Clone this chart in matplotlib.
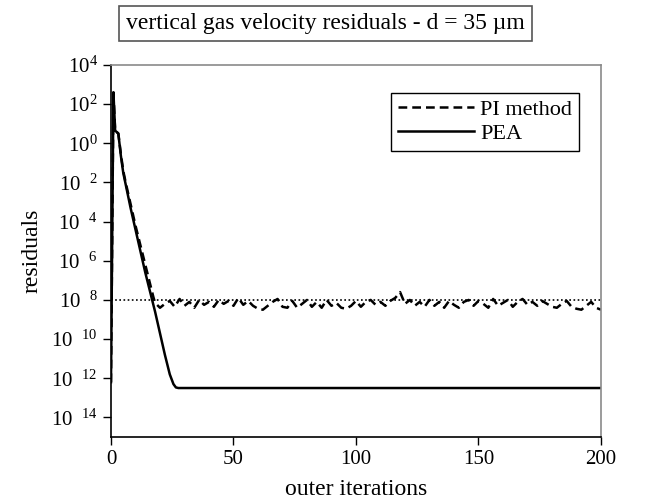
import matplotlib
matplotlib.use('Agg')
import matplotlib.pyplot as plt
import numpy as np

plt.rcParams['font.family'] = ['Liberation Serif', 'DejaVu Serif']
plt.rcParams['mathtext.fontset'] = 'custom'
plt.rcParams['mathtext.rm'] = 'Liberation Serif'

# PEA residuals (log10)
pea_x = [0, 1, 1.7, 3, 4, 5, 6, 8, 10, 12, 14, 16, 18, 20, 22, 24, 25.5, 26.5, 27.5, 200]
pea_log = [-12.2, 2.6, 0.65, 0.5, -0.6, -1.5, -2.1, -3.3, -4.4, -5.5, -6.6, -7.6,
           -8.6, -9.7, -10.8, -11.8, -12.3, -12.47, -12.5, -12.5]

# PI method residuals (log10): decay then noisy plateau around 1e-8
pi_x_start = [0, 1, 1.7, 3, 4, 5, 6, 8, 10, 12, 14, 16, 17.3]
pi_log_start = [-12.2, 2.6, 0.65, 0.5, -0.5, -1.4, -2.0, -3.1, -4.2, -5.2, -6.2, -7.2, -7.85]
pi_x_noise = list(range(18, 201, 2))
pi_log_noise = [-8.15, -8.4, -8.2, -8.05, -8.35, -7.95, -8.3, -8.1, -8.4, -8.0,
                -8.25, -8.1, -8.35, -8.0, -8.2, -8.05, -8.3, -7.9, -8.25, -8.05,
                -8.3, -8.45, -8.5, -8.3, -8.1, -7.95, -8.35, -8.4, -8.05, -8.4,
                -8.2, -8.0, -8.35, -8.1, -8.4, -8.0, -8.3, -8.15, -8.4, -8.45,
                -8.3, -8.05, -8.35, -8.1, -8.0, -8.25, -8.1, -8.3, -8.05, -7.9,
                -7.6, -8.2, -8.0, -8.3, -8.1, -8.35, -8.0, -8.3, -8.1, -8.4,
                -8.05, -8.25, -8.4, -8.1, -8.0, -8.3, -8.05, -8.2, -8.4, -7.95,
                -8.3, -8.15, -8.0, -8.35, -8.1, -7.95, -8.25, -8.1, -8.3, -8.05,
                -8.2, -8.35, -8.4, -8.2, -8.05, -8.35, -8.45, -8.5, -8.3, -8.1,
                -8.4, -8.5]
ref_level = 1e-8

xticks = [0, 50, 100, 150, 200]
yexp = [4, 2, 0, -2, -4, -6, -8, -10, -12, -14]

pi_x = pi_x_start + pi_x_noise
pi_y = 10.0 ** np.array(pi_log_start + pi_log_noise)
pea_y = 10.0 ** np.array(pea_log)

fig = plt.figure(figsize=(6.49, 5.04), dpi=100)
ax = fig.add_axes([0.171, 0.133, 0.755, 0.738])

ax.axhline(ref_level, color='black', linestyle=(0, (1, 1.5)), lw=1.2)
ax.plot(pi_x, pi_y, color='black', linestyle=(0, (3.5, 2)), lw=1.8, label='PI method')
ax.plot(pea_x, pea_y, color='black', linestyle='-', lw=1.8, label='PEA')

ax.set_yscale('log')
ax.set_xlim(0, 200)
ax.set_ylim(1e-15, 1e4)
ax.set_xticks(xticks)
ax.set_yticks([10.0 ** e for e in yexp])
ax.yaxis.set_minor_locator(matplotlib.ticker.NullLocator())

def ylab(e):
    if e >= 0:
        return r'$\mathregular{10^{%d}}$' % e
    return r'$\mathregular{10^{\ \ %d}}$' % (-e)

ax.set_yticklabels([ylab(e) for e in yexp])
ax.tick_params(axis='both', direction='out', length=6, width=1, labelsize=15, color='black')

for s in ['top', 'right']:
    ax.spines[s].set_color('#8a8a8a')
for s in ['left', 'bottom']:
    ax.spines[s].set_color('black')
for s in ax.spines.values():
    s.set_linewidth(1.2)

ax.set_xlabel('outer iterations', fontsize=17, labelpad=7)
ax.set_ylabel('residuals', fontsize=17, labelpad=6)

leg = ax.legend(loc='upper right', bbox_to_anchor=(0.955, 0.925), fontsize=16,
                handlelength=3.4, handletextpad=0.3, fancybox=False, framealpha=1,
                borderpad=0.3, labelspacing=0.15, borderaxespad=0)
leg.get_frame().set_edgecolor('black')
leg.get_frame().set_linewidth(1)

fig.text(0.501, 0.953, 'vertical gas velocity residuals - d = 35 \u00b5m', fontsize=17,
         ha='center', va='center',
         bbox=dict(boxstyle='square,pad=0.3', facecolor='white', edgecolor='#555555', lw=1.2))

fig.savefig('out.png', dpi=100)
